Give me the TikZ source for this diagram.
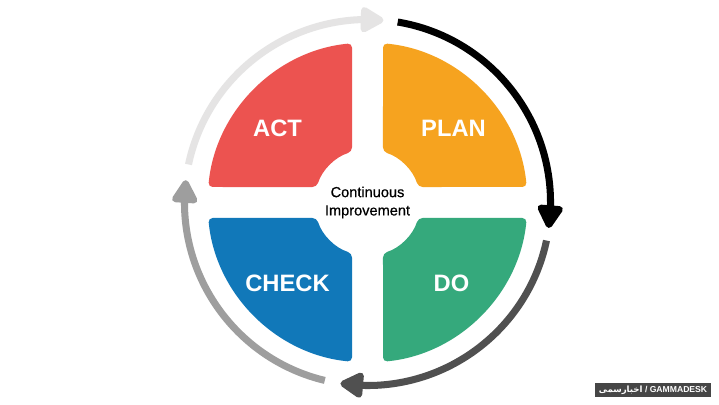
\documentclass[tikz,border=0pt]{standalone}
\usepackage{fontspec}
\setmainfont{Liberation Sans}
\newfontfamily\medfont[FakeBold=0.6]{Liberation Sans}
\newfontfamily\arabicfont[Script=Arabic]{DejaVu Sans}
\TeXXeTstate=1
\usetikzlibrary{arrows.meta, bending}

\definecolor{actred}{RGB}{236,83,80}
\definecolor{planorange}{RGB}{246,163,31}
\definecolor{checkblue}{RGB}{17,120,185}
\definecolor{dogreen}{RGB}{53,169,124}
\definecolor{arrowlight}{RGB}{229,228,228}
\definecolor{arrowdark}{RGB}{80,80,80}
\definecolor{arrowmid}{RGB}{158,158,158}
\definecolor{wmgray}{RGB}{70,70,70}

\begin{document}
\begin{tikzpicture}[x=0.02cm, y=0.02cm,
    phase/.style={text=white, font=\fontsize{13.5}{16}\selectfont\bfseries},
    cyclearrow/.style={line width=4pt, -{Triangle[length=15pt, width=16pt, round]}}]

   \useasboundingbox[fill=white] (-367.5,-202.5) rectangle (351.5,202.5);
   \coordinate (c) at (0,0);

   % the four quarters, turned round the centre
   \foreach \ang/\col in {0/actred, -90/planorange, 90/checkblue, 180/dogreen}
     \fill[\col, rotate=\ang, rounded corners=2.5pt]
       (-15.5,100) -- (95.56:160) arc[start angle=95.56, end angle=174.44, radius=160]
       -- (163:53) arc[start angle=163, end angle=107, radius=53] -- cycle;

   \node[phase] (act)   at (-90,74)  {ACT};
   \node[phase] (plan)  at (86,74)   {PLAN};
   \node[phase] (check) at (-80,-81) {CHECK};
   \node[phase] (do)    at (84,-81)  {DO};

   \node[align=center, font=\fontsize{8.3}{10.4}\selectfont\medfont] (ci) at (0,0) {Continuous\\Improvement};

   % arrows round the cycle
   \draw[cyclearrow, arrowlight] (c) ++(168:183) arc[start angle=168, end angle=85, radius=183];
   \draw[cyclearrow, black] (c) ++(80.5:183) arc[start angle=80.5, end angle=-8, radius=183];
   \draw[cyclearrow, arrowdark] (c) ++(-12:183) arc[start angle=-12, end angle=-98.5, radius=183];
   \draw[cyclearrow, arrowmid] (c) ++(-103.5:183) arc[start angle=-103.5, end angle=-187, radius=183];

   \node[fill=wmgray, text=white, font=\fontsize{4.9}{6}\selectfont\bfseries,
         inner xsep=2pt, inner ysep=1.3pt] (wm) at (285.5,-187.5)
     {{\arabicfont\beginR اخبارسمی\endR} / GAMMADESK};

\end{tikzpicture}
\end{document}
